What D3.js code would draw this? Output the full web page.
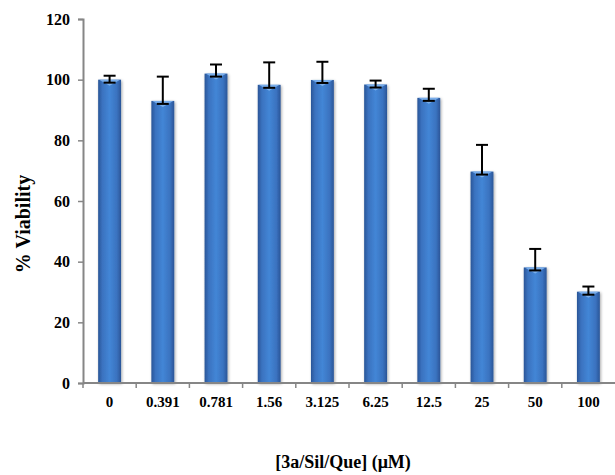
<!DOCTYPE html>
<html>
<head>
<meta charset="UTF-8">
<script src="https://cdn.jsdelivr.net/npm/d3@7"></script>
<style>
  body { margin: 0; background: #fff; }
  text { font-family: "Liberation Serif", "Times New Roman", serif; font-weight: bold; fill: #000; }
</style>
</head>
<body>
<script>
// concentrations (x categories), viability and error (upper)
var doses = ["0", "0.391", "0.781", "1.56", "3.125", "6.25", "12.5", "25", "50", "100"];
var viability = [100, 93, 102, 98.3, 99.9, 98.4, 94, 69.7, 38.1, 30.1];
var errs = [1.3, 8, 3, 7.4, 6, 1.3, 3, 8.8, 6.1, 1.7];
var yTicks = [0, 20, 40, 60, 80, 100, 120];

var W = 615, H = 475;
var m = { left: 83, right: 0, top: 19, bottom: 92 };

var svg = d3.select("body").append("svg")
  .attr("width", W).attr("height", H);

var x = d3.scaleBand().domain(doses)
  .range([m.left, W - m.right]).paddingInner(0.57).paddingOuter(0.285);
var y = d3.scaleLinear().domain([0, 120]).range([H - m.bottom, m.top]);

var defs = svg.append("defs");
var grad = defs.append("linearGradient").attr("id", "barGrad")
  .attr("x1", "0%").attr("x2", "100%").attr("y1", "0%").attr("y2", "0%");
grad.append("stop").attr("offset", "0%").attr("stop-color", "#2a5597");
grad.append("stop").attr("offset", "18%").attr("stop-color", "#3a72bf");
grad.append("stop").attr("offset", "50%").attr("stop-color", "#4386d6");
grad.append("stop").attr("offset", "82%").attr("stop-color", "#3a72bf");
grad.append("stop").attr("offset", "100%").attr("stop-color", "#2a5597");

var shadow = defs.append("filter").attr("id", "shadow")
  .attr("x", "-30%").attr("y", "-10%").attr("width", "160%").attr("height", "120%");
shadow.append("feGaussianBlur").attr("in", "SourceAlpha").attr("stdDeviation", 1.5);
shadow.append("feOffset").attr("dx", 1).attr("dy", 1).attr("result", "b");
shadow.append("feComponentTransfer").append("feFuncA").attr("type", "linear").attr("slope", 0.35);
var fm = shadow.append("feMerge");
fm.append("feMergeNode");
fm.append("feMergeNode").attr("in", "SourceGraphic");

var data = doses.map(function (d, i) {
  return { dose: d, v: viability[i], e: errs[i] };
});

// bars
var bars = svg.append("g").selectAll("g").data(data).enter().append("g");
bars.append("rect")
  .attr("x", function (d) { return x(d.dose); })
  .attr("y", function (d) { return y(d.v); })
  .attr("width", x.bandwidth())
  .attr("height", function (d) { return y(0) - y(d.v); })
  .attr("fill", "url(#barGrad)")
  .attr("filter", "url(#shadow)");
// light bevel at top of each bar
bars.append("path")
  .attr("d", function (d) {
    var x0 = x(d.dose), bw = x.bandwidth(), t = y(d.v);
    return "M" + (x0 + 1) + "," + t + "L" + (x0 + bw - 1) + "," + t +
      "L" + (x0 + bw / 2) + "," + (t + 6) + "Z";
  })
  .attr("fill", "#80b4f0").attr("opacity", 0.9);

// error bars
var eb = svg.append("g").attr("stroke", "#000").attr("stroke-width", 2);
data.forEach(function (d) {
  var cx = x(d.dose) + x.bandwidth() / 2;
  var top = y(d.v + d.e), bot = y(d.v) + 3;
  eb.append("line").attr("x1", cx).attr("x2", cx).attr("y1", top).attr("y2", bot);
  eb.append("line").attr("x1", cx - 6).attr("x2", cx + 6).attr("y1", top).attr("y2", top);
  eb.append("line").attr("x1", cx - 6).attr("x2", cx + 6).attr("y1", bot).attr("y2", bot);
});

// y axis
var ya = svg.append("g").attr("transform", "translate(" + m.left + ",0)")
  .call(d3.axisLeft(y).tickValues(yTicks).tickSize(5).tickPadding(8));
ya.select(".domain").attr("stroke", "#868686").attr("stroke-width", 2);
ya.selectAll(".tick line").attr("stroke", "#868686").attr("stroke-width", 1.5);
ya.selectAll("text").attr("font-size", 16).attr("font-family", null);

// x axis: ticks at category boundaries
var xa = svg.append("g").attr("transform", "translate(0," + y(0) + ")");
xa.append("line").attr("x1", m.left).attr("x2", W - m.right)
  .attr("stroke", "#868686").attr("stroke-width", 2);
var step = x.step();
doses.forEach(function (d, i) {
  var bx = x(d) + x.bandwidth() / 2 - step / 2;
  xa.append("line").attr("x1", bx).attr("x2", bx).attr("y1", 0).attr("y2", 5)
    .attr("stroke", "#868686").attr("stroke-width", 1.5);
});
xa.selectAll("text.lbl").data(doses).enter().append("text")
  .attr("class", "lbl")
  .attr("x", function (d) { return x(d) + x.bandwidth() / 2; })
  .attr("y", 24)
  .attr("text-anchor", "middle")
  .attr("font-size", 15)
  .text(function (d) { return d; });

// axis titles
svg.append("text")
  .attr("transform", "translate(30,224) rotate(-90)")
  .attr("text-anchor", "middle")
  .attr("font-size", 20)
  .text("% Viability");
svg.append("text")
  .attr("x", 343).attr("y", 468)
  .attr("text-anchor", "middle")
  .attr("font-size", 18)
  .text("[3a/Sil/Que] (\u03bcM)");
</script>
</body>
</html>
